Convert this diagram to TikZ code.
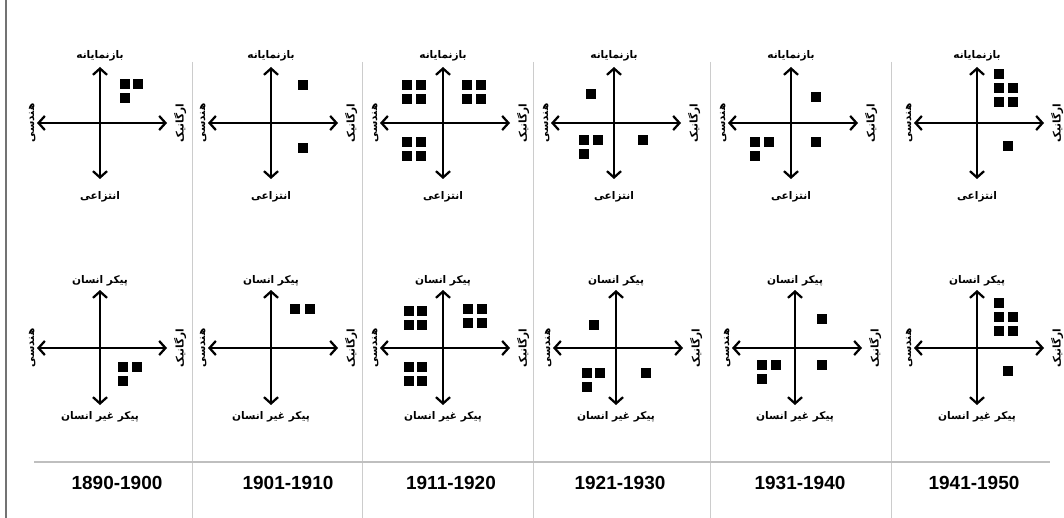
\documentclass[tikz,border=0pt]{standalone}
\usepackage{fontspec}
\setmainfont{Liberation Sans}
\newfontfamily\arabicfont[Script=Arabic]{DejaVu Sans}
\TeXXeTstate=1
\newcommand{\rtl}[1]{\beginR#1\endR}
\usetikzlibrary{arrows.meta}

\begin{document}
\begin{tikzpicture}[x=0.025cm,y=-0.025cm,
	axis_line/.style={line width=1.6pt,{Straight Barb[length=4.5pt,width=10pt]}-{Straight Barb[length=4.5pt,width=10pt]}},
	label_node/.style={font=\arabicfont\bfseries\fontsize{7.5}{8}\selectfont,inner sep=0pt},
	side_node/.style={label_node,rotate=90},
	square_node/.style={fill=black,minimum size=7.4pt,inner sep=0pt},
	year_node/.style={font=\bfseries\fontsize{13.5}{16}\selectfont,inner sep=0pt},
	sep_line/.style={black!20,line width=0.7pt}]

		\useasboundingbox (0,0) rectangle (1064,518);

		% frame and column lines
		\draw[black!55,line width=0.9pt] (6,0) -- (6,518);
		\foreach \x in {192,362,533,710,891}
			\draw[sep_line] (\x,62) -- (\x,518);
		\draw[black!25,line width=1.2pt] (34,462) -- (1050,462);

		% upper row
		\foreach \cx [count=\i] in {100,271,443,614,791,977} {
			\coordinate (at\i) at (\cx,67);
			\coordinate (ab\i) at (\cx,179);
			\coordinate (al\i) at (\cx-63,123);
			\coordinate (ar\i) at (\cx+67,123);
			\draw[axis_line] (al\i) -- (ar\i);
			\draw[axis_line] (at\i) -- (ab\i);
			\node[label_node] (atl\i) at (\cx,56) {\rtl{بازنمایانه}};
			\node[label_node] (abl\i) at (\cx,197) {\rtl{انتزاعی}};
			\node[side_node] (all\i) at (\cx-68,123) {\rtl{هندسی}};
			\node[side_node] (arl\i) at (\cx+80,123) {\rtl{ارگانیک}};
		}

		% lower row
		\foreach \cx [count=\i] in {100,271,443,616,795,977} {
			\coordinate (bt\i) at (\cx,290);
			\coordinate (bb\i) at (\cx,405);
			\coordinate (bl\i) at (\cx-63,348);
			\coordinate (br\i) at (\cx+67,348);
			\draw[axis_line] (bl\i) -- (br\i);
			\draw[axis_line] (bt\i) -- (bb\i);
			\node[label_node] (btl\i) at (\cx,281) {\rtl{پیکر انسان}};
			\node[label_node] (bbl\i) at (\cx,417) {\rtl{پیکر غیر انسان}};
			\node[side_node] (bll\i) at (\cx-68,348) {\rtl{هندسی}};
			\node[side_node] (brl\i) at (\cx+80,348) {\rtl{ارگانیک}};
		}

		% works per period
		\foreach \x/\y [count=\k] in {125/84,138/84,125/98, 303/85,303/148,
			407/85,421/85,407/99,421/99, 467/85,481/85,467/99,481/99, 407/142,421/142,407/156,421/156,
			591/94,584/140,598/140,584/154,643/140,
			816/97,816/142,755/142,769/142,755/156,
			999/74,999/88,1013/88,999/102,1013/102,1008/146,
			123/367,137/367,123/381, 295/309,310/309,
			409/311,422/311,409/325,422/325, 468/309,482/309,468/323,482/323, 409/367,422/367,409/381,422/381,
			594/325,587/373,600/373,587/387,646/373,
			822/319,822/365,762/365,776/365,762/379,
			999/303,999/317,1013/317,999/331,1013/331,1008/371}
			\node[square_node] (s\k) at (\x,\y) {};

		\node[year_node] (y1) at (117,483) {1890-1900};
		\node[year_node] (y2) at (288,483) {1901-1910};
		\node[year_node] (y3) at (451,483) {1911-1920};
		\node[year_node] (y4) at (620,483) {1921-1930};
		\node[year_node] (y5) at (800,483) {1931-1940};
		\node[year_node] (y6) at (974,483) {1941-1950};
		\end{tikzpicture}
\end{document}
